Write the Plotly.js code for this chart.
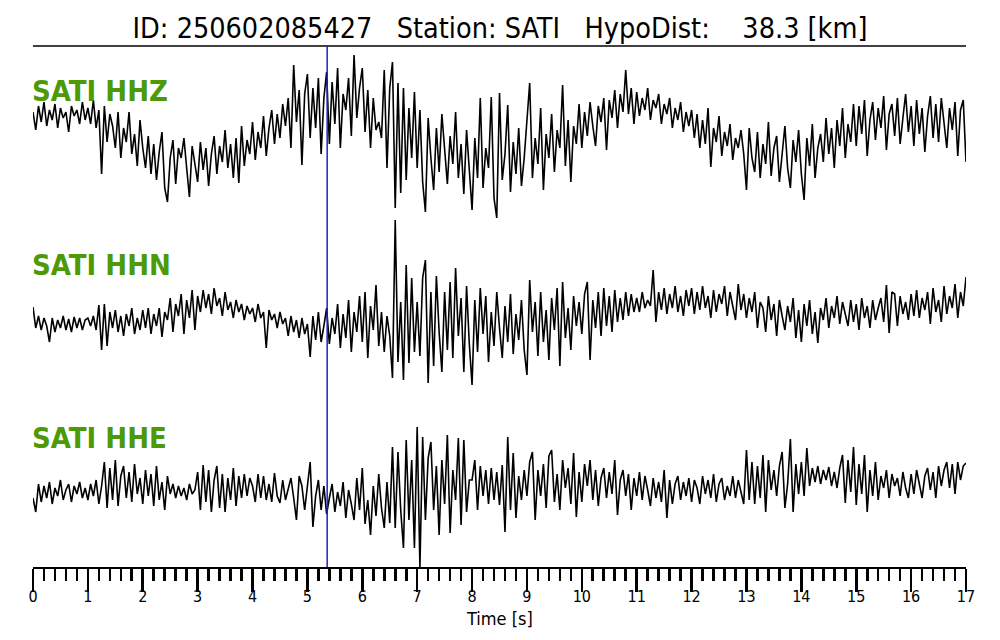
<!DOCTYPE html>
<html><head><meta charset="utf-8">
<script src="https://cdn.plot.ly/plotly-3.0.1.min.js"></script>
<style>html,body{margin:0;padding:0;background:#fff}#chart{width:1000px;height:640px}</style>
</head><body><div id="chart"></div>
<script>
// ---- metadata ----
const EVENT_ID = '250602085427';
const STATION = 'SATI';
const HYPO_DIST_KM = 38.3;
const CHANNELS = ['HHZ', 'HHN', 'HHE'];
const T_START = 0;        // s
const SAMPLE_DT = 0.05;   // s
const PICK_TIME = 5.36;   // s (blue marker)
const X_RANGE = [0, 17];
const X_LABEL = 'Time [s]';

// ---- waveforms (relative amplitude, up positive), one row per second ----
const HHZ = [
  6, -12, 12, -4, 16, -8, 8, -2, 14, -10, 10, 0, 6, -14, 12, 2, 8, -6, 16, -2,
  10, -6, 18, -10, 8, -56, 12, -24, 4, -8, -30, 6, -40, -10, -24, 6, -36, -16, -48, -2,
  -30, -50, -18, -56, -26, -62, -34, -14, -70, -84, -40, -22, -66, -30, -40, -20, -50, -79, -28, -46,
  -64, -24, -52, -30, -68, -36, -18, -56, -28, -44, -12, -50, -26, -60, -20, -65, -8, -48, -22, -36,
  -4, -42, -14, -30, 2, -38, -10, 8, -26, 4, -20, 14, -8, 20, -30, 53, -4, 28, -47, 24,
  44, -20, 30, -10, 40, -36, 20, 46, -26, 36, -6, 50, -30, 24, 8, 40, -18, 63, 0, 30,
  50, -14, 28, -30, 20, -12, -4, -20, 48, -50, 30, 56, -90, 35, -75, 30, -62, 10, -40, 26,
  -50, 8, -64, -94, 0, -40, -72, -10, -54, 4, -30, -66, -18, -46, 6, -60, -26, -76, -12, -50,
  -92, -20, -60, 20, -70, -30, -50, 21, -80, -100, 25, -62, -36, 13, -74, -24, -56, -10, -68, -40,
  -4, 35, -60, -20, -46, 10, -72, -16, -40, 4, -54, -12, -30, 33, -48, -2, -64, -8, -26, 14,
  -30, 6, -18, 16, -8, -28, 12, -4, 20, -32, 18, 0, 28, -10, 24, 6, 48, 4, 30, -6,
  26, 2, 20, 8, 30, -2, 18, 10, 24, -6, 14, 4, 20, -10, 10, -2, 16, -14, 6, -8,
  8, -20, 4, -30, -2, -26, 10, -49, -10, -24, 2, -38, -14, -28, -6, -42, -20, -30, -12, -36,
  -72, -10, -40, -54, -14, -60, -26, -46, -4, -58, -30, -18, -64, -36, -8, -50, -70, -22, -44, -12,
  -56, -82, -20, -48, -6, -60, -30, -16, -44, 0, -36, -10, -50, -2, -28, 10, -40, -6, -24, 14,
  -28, 12, -16, 18, -38, -2, 16, -22, 10, -10, 22, -32, 4, 14, -18, 20, -26, 0, 24, -14,
  12, -28, 18, -16, 10, -34, 2, 22, -20, 14, -24, 20, -6, -30, 10, -12, 16, -38, 8, 18,
  -44
];
const HHN = [
  15, -6, 6, -8, 4, -4, -20, 4, -10, 2, -6, 6, -8, 3, -10, 5, -6, 4, -8, 2,
  4, -4, 6, -8, 17, -28, 18, -24, 10, -6, 12, -10, 6, -14, 8, -4, 14, -12, 4, -8,
  12, -6, 14, -12, 8, -4, 14, -15, 10, 2, 24, -10, 18, 6, 28, -12, 22, 4, 32, -8,
  26, 10, 32, 14, 28, 8, 34, 16, 24, 6, 30, 12, 20, 4, 22, 10, 18, 2, 16, 8,
  14, 0, 18, 4, 10, -26, 12, 2, 8, -6, 10, -2, 4, -14, 6, -10, 2, -16, 4, -12,
  -2, -35, 6, -18, 10, -20, -4, 14, -22, 4, -12, 18, -26, 8, -16, 22, -30, 10, -10, 26,
  -20, 30, -36, 16, -8, 37, -24, 10, -30, 6, -14, -56, 102, -40, 20, -58, 57, -41, 44, -30,
  20, -34, 44, 62, -61, 30, -44, 46, -10, -50, 30, -28, 40, -36, 54, -14, 24, -50, 36, -22,
  -63, 22, -30, 34, -12, 26, -40, 10, -24, 30, -6, -36, 16, -20, 28, -32, 8, -18, 22, -28,
  -53, 42, -10, 20, -34, 30, -20, 12, -38, 24, -8, 34, -44, 40, -16, 14, -28, 26, -4, 20,
  -12, 28, 40, -38, 22, -6, 30, -14, 34, -4, 26, -10, 32, 0, 24, 2, 30, 6, 28, 10,
  24, 10, 30, 14, 22, 16, 52, 0, 30, 12, 34, 8, 28, 14, 36, 10, 26, 6, 32, 16,
  34, 8, 30, 12, 36, 14, 26, 4, 32, 10, 28, 18, 36, 6, 30, 16, 2, 38, 12, 28,
  4, 24, 10, 30, -6, 20, 14, -10, 26, 2, 18, -14, 22, 6, -8, 16, 0, 24, -16, 12,
  -20, 18, -4, 22, -12, 10, -21, 14, 2, 24, -6, 16, 4, 26, -2, 20, 8, -4, 22, 0,
  18, -8, 24, 4, 16, -6, 22, 2, 14, 24, 0, 37, -11, 30, 28, -4, 26, 8, 20, 2,
  28, 6, 32, 4, 24, 12, 30, -2, 34, 10, 22, 0, 36, 8, 26, 14, 38, 4, 30, 16,
  45
];
const HHE = [
  -8, -22, 6, -12, 4, -8, 8, -14, 2, -6, 10, -10, 0, 6, -12, 4, -4, 8, -8, 2,
  -10, 6, -6, 10, -14, 4, 28, -18, 22, -10, 30, -16, 14, 24, -8, 18, -12, 26, -4, 12,
  -14, 20, -6, 16, -16, 24, -10, 8, -20, 14, -4, 6, -8, 4, -6, 2, -10, 6, -4, 0,
  18, -20, 25, -12, 20, -22, 10, 24, -18, 16, -22, 12, -10, 22, -16, 14, -8, 16, -6, 12,
  4, -12, 16, -8, 14, -10, 6, -12, 17, -6, -13, 10, -10, 2, 12, -8, -30, 14, 4, -20,
  2, 28, -37, -6, 10, -20, 4, -24, -8, 6, -22, -2, -16, 8, -28, 0, -14, -30, 12, -20,
  22, -34, -10, -45, 4, -26, 16, -18, -38, 8, -33, 43, -38, 38, -20, -58, 50, -30, 30, -58,
  63, -77, 53, -30, 32, 48, -20, 24, -45, 30, -14, 55, -43, 20, -10, 52, -35, 50, -22, 10,
  10, 30, -20, 24, -6, 20, -14, 22, -10, 18, -15, 25, -42, 53, -20, 37, -28, 14, -10, 20,
  -6, 28, 38, -30, 20, -6, 26, -18, 34, 40, -12, 16, -20, 30, 2, 22, -14, 37, -27, 18,
  -12, 26, 4, 30, -10, 20, -16, 12, 22, -8, 18, -4, 30, -25, 10, 20, -6, 16, -20, 12,
  -6, 18, -10, 14, 0, -16, 12, -8, 8, -12, 20, -28, 10, -14, 6, 14, -10, 8, -6, 12,
  -12, 10, 2, -14, 14, -4, 10, -8, 16, -12, 6, 12, -10, 4, -6, 14, -8, 10, -2, -14,
  40, -10, 28, -14, 24, -8, 35, -22, 30, 0, 20, -6, 24, 38, -18, 6, 51, -22, 26, -4,
  28, -6, 42, 4, 22, 8, 24, 6, 20, 10, 23, 4, 18, 2, 22, 35, -13, 30, -2, 43,
  -15, 26, -4, 35, -22, 20, -6, 28, -10, 14, 2, 20, -8, 16, 4, 12, -6, 18, 2, -8,
  16, -4, 20, 6, -8, 14, 22, 0, 18, -8, 24, 4, 20, 28, 2, 26, -4, 28, 10, 24,
  27
];

// ---- styling ----
const FONT = '"DejaVu Sans Condensed", "Liberation Sans Narrow", "DejaVu Sans", sans-serif';
const GREEN = '#4e9a06';
const BLUE = '#1f1fc8';

const sp = n => '\u00a0'.repeat(n);
const titleText = 'ID: ' + EVENT_ID + sp(3) + 'Station: ' + STATION + sp(3) +
  'HypoDist:' + sp(4) + HYPO_DIST_KM.toFixed(1) + ' [km]';

const WAVES = [HHZ, HHN, HHE];
const AXES = ['y', 'y2', 'y3'];
const traces = WAVES.map((w, i) => ({
  type: 'scatter', mode: 'lines', y: w, x0: T_START, dx: SAMPLE_DT,
  yaxis: AXES[i], line: {color: '#000', width: 1.6}, hoverinfo: 'skip', showlegend: false
}));

const hiddenY = r => ({range: r, visible: false, fixedrange: true, showgrid: false, zeroline: false});
const labelY = [0.9136, 0.5797, 0.2476];

const channelLabels = CHANNELS.map((c, i) => ({
  text: STATION + ' ' + c, xref: 'paper', yref: 'paper', x: 0, y: labelY[i], xshift: -3,
  xanchor: 'left', yanchor: 'middle', showarrow: false,
  font: {family: FONT, size: 29, color: GREEN, weight: 'bold'}
}));

const layout = {
  width: 1000, height: 640,
  margin: {l: 33, r: 34, t: 46, b: 73, pad: 0},
  paper_bgcolor: '#fff', plot_bgcolor: '#fff',
  showlegend: false,
  title: {text: titleText, x: 0.5, xanchor: 'center', y: 0.956, yanchor: 'middle', yref: 'container',
    font: {family: FONT, size: 28.5, color: '#000'}},
  xaxis: {
    range: X_RANGE, tick0: 0, dtick: 1, ticks: 'outside', ticklen: 23, tickwidth: 2.6, tickcolor: '#000',
    showline: true, linewidth: 2.2, linecolor: '#000', showgrid: false, zeroline: false,
    tickfont: {family: FONT, size: 16, color: '#000'}, ticklabelstandoff: -9,
    minor: {dtick: 0.2, tick0: 0, ticks: 'outside', ticklen: 12, tickwidth: 2.6, tickcolor: '#000', showgrid: false},
    fixedrange: true
  },
  yaxis: hiddenY([-449, 72]),
  yaxis2: Object.assign(hiddenY([-245, 276]), {overlaying: 'y'}),
  yaxis3: Object.assign(hiddenY([-77, 444]), {overlaying: 'y'}),
  shapes: [
    {type: 'line', xref: 'paper', yref: 'paper', x0: 0, x1: 1, y0: 1, y1: 1, line: {color: '#000', width: 1.6}},
    {type: 'line', xref: 'x', yref: 'paper', x0: PICK_TIME, x1: PICK_TIME, y0: 0, y1: 1, line: {color: BLUE, width: 1.5}}
  ],
  annotations: channelLabels.concat([{
    text: X_LABEL, xref: 'paper', yref: 'paper', x: 0.5, y: -0.099, xanchor: 'center', yanchor: 'middle',
    showarrow: false, font: {family: FONT, size: 18, color: '#000'}
  }])
};

Plotly.newPlot('chart', traces, layout, {displayModeBar: false, staticPlot: true});
</script>
</body></html>
